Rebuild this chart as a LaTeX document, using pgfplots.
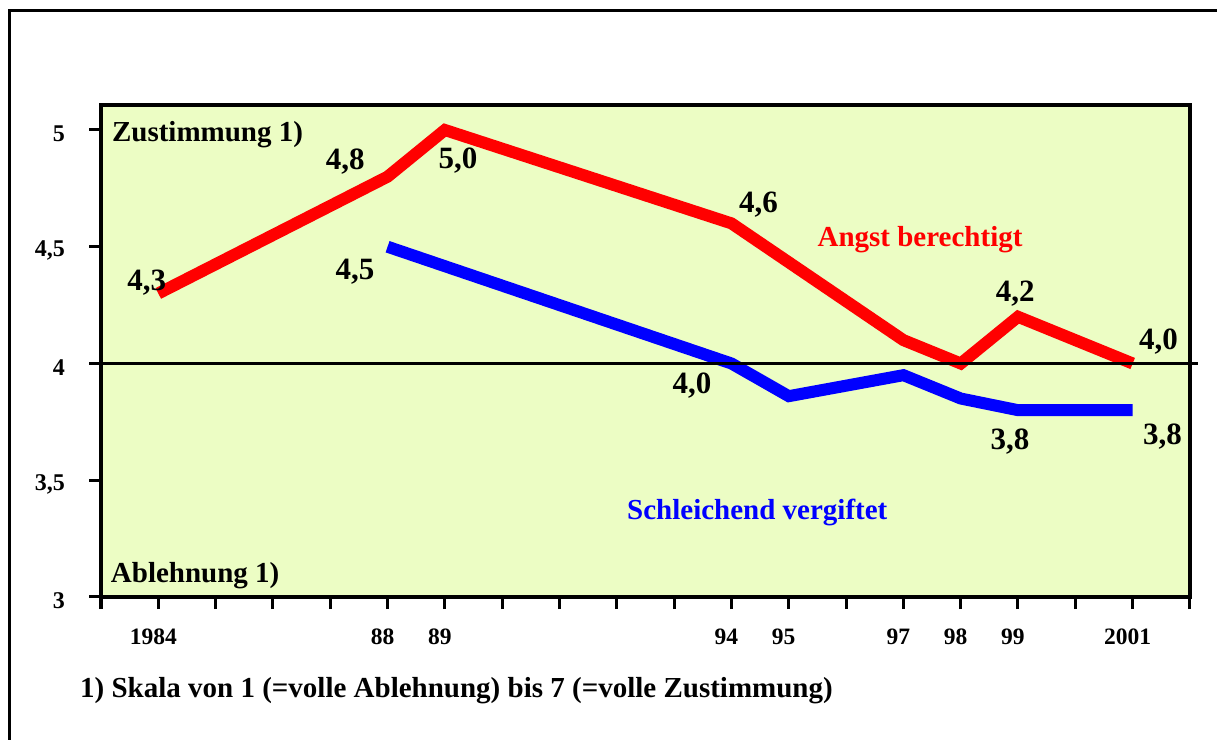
\documentclass[border=0pt]{standalone}
\usepackage{pgfplots}
\pgfplotsset{compat=1.18}
\usepackage{fontspec}
\setmainfont{Liberation Serif}
\definecolor{bgcol}{RGB}{236,253,196}
\definecolor{myred}{RGB}{255,0,0}
\definecolor{myblue}{RGB}{0,0,255}
\newcommand{\lab}{\fontsize{31bp}{35bp}\selectfont\bfseries}
\newcommand{\txt}{\fontsize{29bp}{34bp}\selectfont\bfseries}
\begin{document}
\begin{tikzpicture}
\useasboundingbox (0,0) rectangle (1217bp,740bp);
\draw[line width=3bp] (9bp,0) -- (9bp,729.5bp) -- (1217bp,729.5bp);
\begin{axis}[
  at={(101bp,143bp)}, anchor=south west,
  width=1089bp, height=492bp, scale only axis,
  xmin=1983, xmax=2002, ymin=3, ymax=5.107,
  clip=false,
  axis background/.style={fill=bgcol},
  axis line style={line width=3.5bp},
  xtick={1983,...,2002},
  xticklabels={,1984,,,,88,89,,,,,94,95,,97,98,99,,2001,},
  ytick={3,3.5,4,4.5,5},
  yticklabels={3,{3,5},4,{4,5},5},
  tickpos=left, tick align=outside,
  major tick length=12bp,
  tick style={line width=3bp, black},
  /pgf/number format/assume math mode=true,
  xticklabel style={font=\fontsize{23.5bp}{26bp}\selectfont\bfseries, anchor=base, yshift=-35bp, xshift=-5bp},
  yticklabel style={font=\fontsize{24bp}{28bp}\selectfont\bfseries, anchor=east, inner sep=0pt, xshift=-24bp, yshift=-4bp},
]
\addplot[myred, line width=12bp, mark=none] coordinates {
 (1984,4.3) (1988,4.8) (1989,5.0) (1994,4.6) (1997,4.1) (1998,4.0) (1999,4.2) (2001,4.0)};
\addplot[myblue, line width=12bp, mark=none] coordinates {
 (1988,4.5) (1994,4.0) (1995,3.86) (1997,3.95) (1998,3.85) (1999,3.8) (2001,3.8)};
\draw[line width=3.5bp, black] (axis cs:1983,4) -- (axis cs:2002.14,4);
\node[font=\lab] at (axis cs:1983.80,4.345) {4,3};
\node[font=\lab] at (axis cs:1987.26,4.863) {4,8};
\node[font=\lab] at (axis cs:1989.23,4.871) {5,0};
\node[font=\lab] at (axis cs:1994.47,4.679) {4,6};
\node[font=\lab] at (axis cs:1987.43,4.392) {4,5};
\node[font=\lab] at (axis cs:1993.31,3.904) {4,0};
\node[font=\lab] at (axis cs:1998.95,4.298) {4,2};
\node[font=\lab] at (axis cs:2001.45,4.092) {4,0};
\node[font=\lab] at (axis cs:1998.86,3.664) {3,8};
\node[font=\lab] at (axis cs:2001.52,3.685) {3,8};
\node[font=\txt, text=myred] at (axis cs:1997.29,4.529) {Angst berechtigt};
\node[font=\txt, text=myblue] at (axis cs:1994.45,3.36) {Schleichend vergiftet};
\node[font=\txt, anchor=west, inner sep=0pt] at (axis cs:1983.19,4.98) {Zustimmung 1)};
\node[font=\txt, anchor=west, inner sep=0pt] at (axis cs:1983.17,3.09) {Ablehnung 1)};
\end{axis}
\node[font=\txt, anchor=west, inner sep=0pt] at (80bp,49bp) {1) Skala von 1 (=volle Ablehnung) bis 7 (=volle Zustimmung)};
\end{tikzpicture}
\end{document}
